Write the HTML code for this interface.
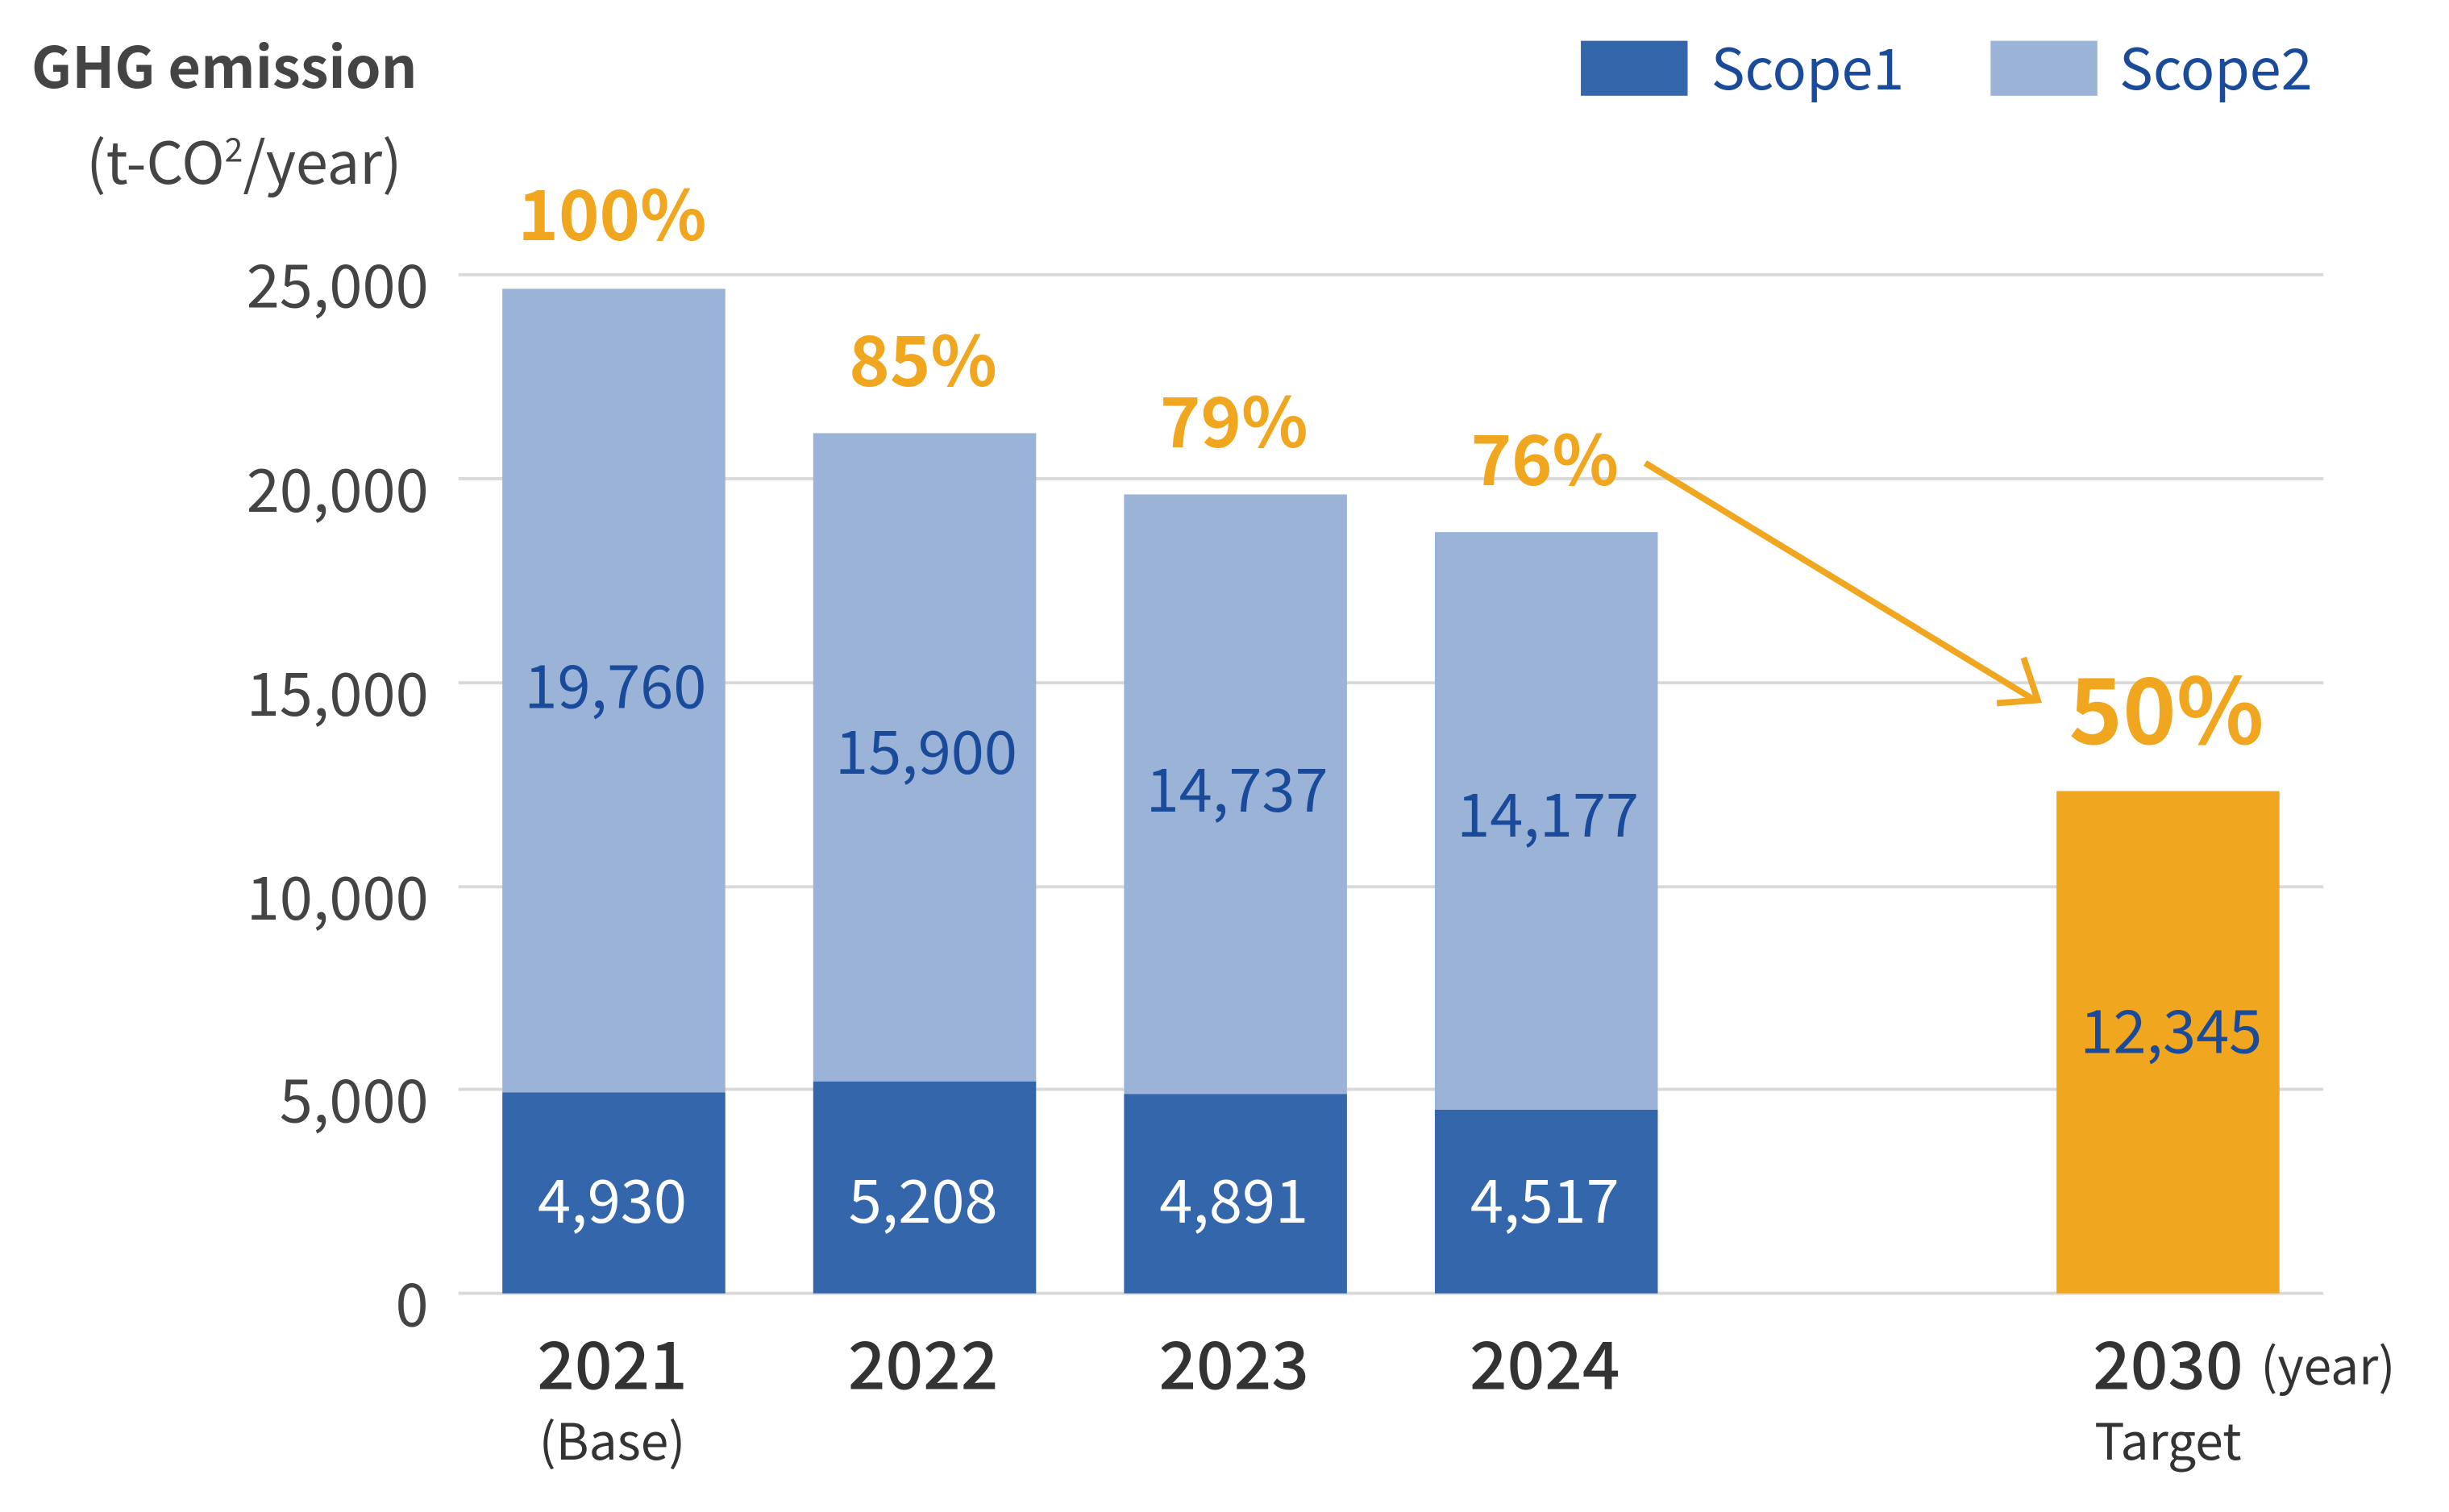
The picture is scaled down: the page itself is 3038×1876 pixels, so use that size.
<!DOCTYPE html>
<html><head><meta charset="utf-8"><style>
html,body{margin:0;padding:0;background:#fff;width:3038px;height:1876px;overflow:hidden}
svg{display:block}
text{font-family:"Noto Sans CJK JP","Liberation Sans",sans-serif}
</style></head><body>
<svg width="3038" height="1876" viewBox="0 0 1560 963.3" preserveAspectRatio="none" xmlns="http://www.w3.org/2000/svg">
<g stroke="#d9d9d9" stroke-width="2">
<line x1="292" y1="175" x2="1480" y2="175"/>
<line x1="292" y1="305" x2="1480" y2="305"/>
<line x1="292" y1="435" x2="1480" y2="435"/>
<line x1="292" y1="565" x2="1480" y2="565"/>
<line x1="292" y1="694" x2="1480" y2="694"/>
<line x1="292" y1="824" x2="1480" y2="824"/>
</g>
<g font-size="38" fill="#444" text-anchor="end">
<text x="273" y="196">25,000</text>
<text x="273" y="326">20,000</text>
<text x="273" y="456">15,000</text>
<text x="273" y="586">10,000</text>
<text x="273" y="715">5,000</text>
<text x="273" y="845">0</text>
</g>
<text x="20" y="56" font-size="36" font-weight="bold" fill="#444">GHG emission</text>
<text x="55" y="117" font-size="37" fill="#444">(t-CO<tspan font-size="21" dy="-14">2</tspan><tspan dy="14">/year)</tspan></text>
<rect x="1007" y="26" width="68" height="35" fill="#3366aa"/>
<text x="1090" y="57" font-size="36" fill="#1a4a9a">Scope1</text>
<rect x="1268" y="26" width="68" height="35" fill="#9ab3d7"/>
<text x="1350" y="57" font-size="36" fill="#1a4a9a">Scope2</text>
<g fill="#9ab3d7">
<rect x="320" y="184" width="142" height="512"/>
<rect x="518" y="276" width="142" height="413"/>
<rect x="716" y="315" width="142" height="382"/>
<rect x="914" y="339" width="142" height="368"/>
</g>
<g fill="#3366aa">
<rect x="320" y="696" width="142" height="128"/>
<rect x="518" y="689" width="142" height="135"/>
<rect x="716" y="697" width="142" height="127"/>
<rect x="914" y="707" width="142" height="117"/>
</g>
<rect x="1310" y="504" width="142" height="320" fill="#f0a61e"/>
<g font-size="38" fill="#1a4a9a" text-anchor="middle">
<text x="392" y="451">19,760</text>
<text x="590" y="493">15,900</text>
<text x="788" y="517">14,737</text>
<text x="986" y="533">14,177</text>
<text x="1383" y="671">12,345</text>
</g>
<g font-size="38" fill="#fff" text-anchor="middle">
<text x="390" y="779">4,930</text>
<text x="588" y="779">5,208</text>
<text x="786" y="779">4,891</text>
<text x="984" y="779">4,517</text>
</g>
<g font-size="44" fill="#f0a61e" text-anchor="middle" font-weight="bold">
<text x="390" y="153">100%</text>
<text x="588" y="246">85%</text>
<text x="786" y="285">79%</text>
<text x="984" y="309">76%</text>
<text x="1380" y="474" font-size="58">50%</text>
</g>
<g stroke="#f0a61e" stroke-width="4" fill="none">
<line x1="1048" y1="295" x2="1296" y2="446"/>
<polyline points="1272,448 1298,446 1289,419"/>
</g>
<g font-size="42" fill="#333" text-anchor="middle" font-weight="500">
<text x="390" y="885">2021</text>
<text x="588" y="885">2022</text>
<text x="786" y="885">2023</text>
<text x="984" y="885">2024</text>
<text x="1381" y="885">2030</text>
</g>
<g font-size="32" fill="#333">
<text x="390" y="930" text-anchor="middle">(Base)</text>
<text x="1381" y="930" text-anchor="middle">Target</text>
<text x="1440" y="882">(year)</text>
</g>
</svg>
</body></html>
